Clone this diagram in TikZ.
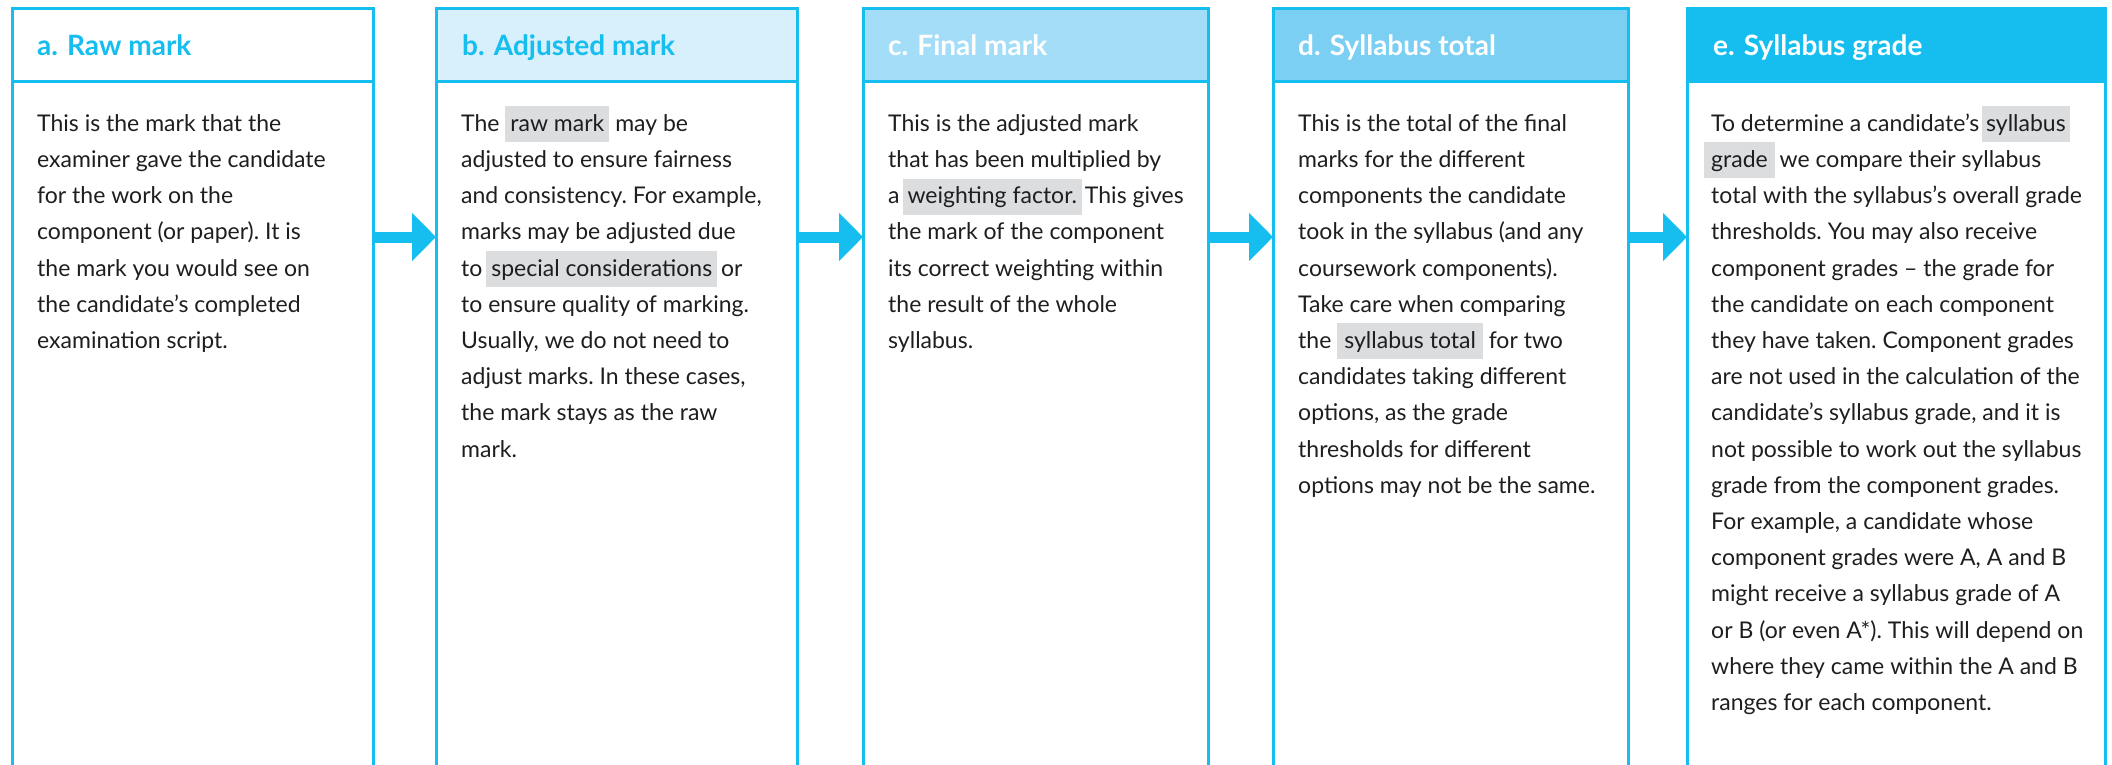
\documentclass[tikz,border=0pt]{standalone}
\usepackage{fontspec}
\setmainfont{Lato}
\usetikzlibrary{arrows.meta}

\definecolor{cyanline}{RGB}{22,190,240}
\definecolor{hdrb}{RGB}{215,240,251}
\definecolor{hdrc}{RGB}{164,221,247}
\definecolor{hdrd}{RGB}{122,207,243}
\definecolor{hlgray}{RGB}{220,221,223}
\definecolor{bodyink}{RGB}{30,30,32}

\newcommand{\txtstrut}{\rule[-11pt]{0pt}{36pt}}
\newcommand{\hlword}[2][5pt]{{\setlength{\fboxsep}{0pt}\colorbox{hlgray}{\txtstrut\hspace{#1}#2\hspace{#1}}}}

\tikzset{
  hdrbox/.style={draw=cyanline, line width=3pt, inner sep=0pt, outer sep=0pt, anchor=north west, minimum height=73pt},
  colbox/.style={draw=cyanline, line width=3pt, inner sep=0pt, outer sep=0pt, anchor=north west, minimum height=720pt},
  hdrtext/.style={anchor=base west, inner sep=0pt, font=\fontsize{28}{32}\selectfont\bfseries},
  bodytext/.style={anchor=north west, inner sep=0pt, align=left, text=bodyink, font=\fontsize{23}{36.2}\selectfont\frenchspacing},
  flow/.style={draw=cyanline, line width=11pt, -{Triangle[width=47pt, length=24pt]}}
}

\begin{document}
\begin{tikzpicture}[x=1pt, y=-1pt]
\useasboundingbox (0,0) rectangle (2112,765);
\clip (0,0) rectangle (2112,765);

\node[colbox, minimum width=361pt] (boxa) at (12,82) {};
\node[colbox, minimum width=361pt] (boxb) at (436,82) {};
\node[colbox, minimum width=345pt] (boxc) at (863,82) {};
\node[colbox, minimum width=355pt] (boxd) at (1273,82) {};
\node[colbox, minimum width=418pt] (boxe) at (1687,82) {};

\node[hdrbox, minimum width=361pt, fill=white] (hdra) at (12,9) {};
\node[hdrbox, minimum width=361pt, fill=hdrb] (hdrb) at (436,9) {};
\node[hdrbox, minimum width=345pt, fill=hdrc] (hdrc) at (863,9) {};
\node[hdrbox, minimum width=355pt, fill=hdrd] (hdrd) at (1273,9) {};
\node[hdrbox, minimum width=418pt, fill=cyanline] (hdre) at (1687,9) {};

\node[hdrtext, text=cyanline] (ttla) at (37,56) {a. Raw mark};
\node[hdrtext, text=cyanline] (ttlb) at (462,56) {b. Adjusted mark};
\node[hdrtext, text=white] (ttlc) at (888,56) {c. Final mark};
\node[hdrtext, text=white] (ttld) at (1298,56) {d. Syllabus total};
\node[hdrtext, text=white] (ttle) at (1713,56) {e. Syllabus grade};

\node[bodytext] (txta) at (37,106) {\txtstrut This is the mark that the\\
examiner gave the candidate\\
for the work on the\\
component (or paper). It is\\
the mark you would see on\\
the candidate's completed\\
examination script.};

\node[bodytext] (txtb) at (461,106) {\txtstrut The \hlword{raw mark} may be\\
adjusted to ensure fairness\\
and consistency. For example,\\
marks may be adjusted due\\
to\hspace{-2pt} \hlword{special considerations}\hspace{-2pt} or\\
to ensure quality of marking.\\
Usually, we do not need to\\
adjust marks. In these cases,\\
the mark stays as the raw\\
mark.};

\node[bodytext] (txtc) at (888,106) {\txtstrut This is the adjusted mark\\
that has been multiplied by\\
a\hspace{-3pt} \hlword{weighting factor.}\hspace{-3pt} This gives\\
the mark of the component\\
its correct weighting within\\
the result of the whole\\
syllabus.};

\node[bodytext] (txtd) at (1298,106) {\txtstrut This is the total of the final\\
marks for the different\\
components the candidate\\
took in the syllabus (and any\\
coursework components).\\
Take care when comparing\\
the \hlword[7pt]{syllabus total} for two\\
candidates taking different\\
options, as the grade\\
thresholds for different\\
options may not be the same.};

\node[bodytext] (txte) at (1711,106) {\txtstrut To determine a candidate's\hspace{-3pt} \hlword[4pt]{syllabus}\\
\hspace*{-7pt}\hlword[7pt]{grade}\hspace{-1pt} we compare their syllabus\\
total with the syllabus's overall grade\\
thresholds. You may also receive\\
component grades -- the grade for\\
the candidate on each component\\
they have taken. Component grades\\
are not used in the calculation of the\\
candidate's syllabus grade, and it is\\
not possible to work out the syllabus\\
grade from the component grades.\\
For example, a candidate whose\\
component grades were A, A and B\\
might receive a syllabus grade of A\\
or B (or even A*). This will depend on\\
where they came within the A and B\\
ranges for each component.};

\draw[flow] ([yshift=-155pt]boxa.north east) -- ([yshift=-155pt]boxb.north west);
\draw[flow] ([yshift=-155pt]boxb.north east) -- ([yshift=-155pt]boxc.north west);
\draw[flow] ([yshift=-155pt]boxc.north east) -- ([yshift=-155pt]boxd.north west);
\draw[flow] ([yshift=-155pt]boxd.north east) -- ([yshift=-155pt]boxe.north west);
\end{tikzpicture}
\end{document}
